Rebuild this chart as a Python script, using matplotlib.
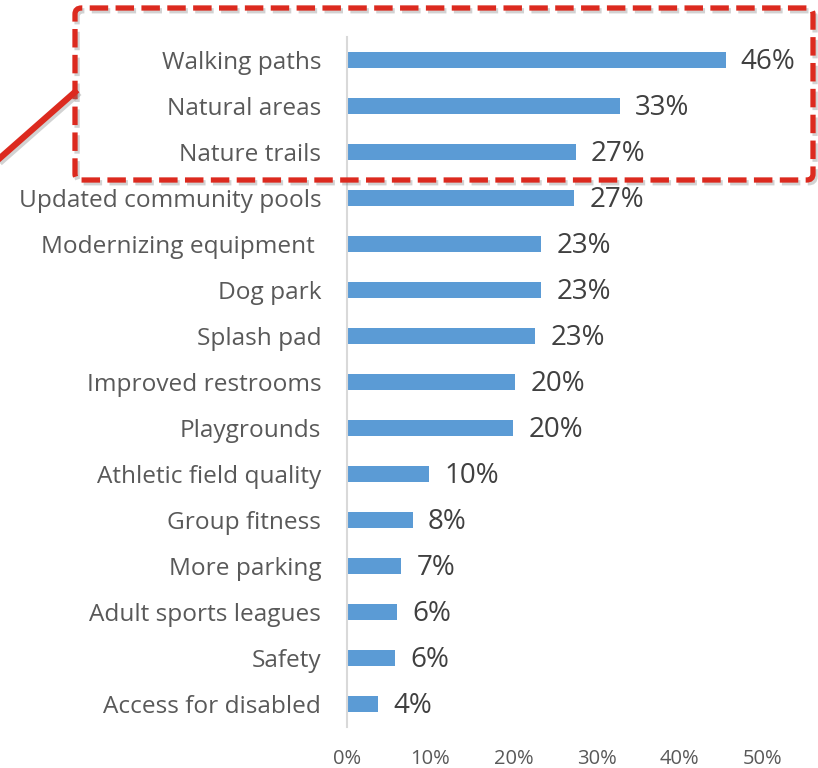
import matplotlib.pyplot as plt
from matplotlib.patches import FancyBboxPatch
from matplotlib.lines import Line2D
from matplotlib import patheffects as pe

# Data (top to bottom)
categories = ['Walking paths', 'Natural areas', 'Nature trails', 'Updated community pools',
              'Modernizing equipment ', 'Dog park', 'Splash pad', 'Improved restrooms',
              'Playgrounds', 'Athletic field quality', 'Group fitness', 'More parking',
              'Adult sports leagues', 'Safety', 'Access for disabled']
values = [45.5, 32.8, 27.5, 27.3, 23.3, 23.3, 22.6, 20.2, 20.0, 9.9, 7.9, 6.5, 6.0, 5.8, 3.7]
value_labels = ['46%', '33%', '27%', '27%', '23%', '23%', '23%', '20%', '20%', '10%',
                '8%', '7%', '6%', '6%', '4%']
xticks = [0, 10, 20, 30, 40, 50]

plt.rcParams['font.family'] = ['Open Sans', 'DejaVu Sans']

fig = plt.figure(figsize=(8.18, 7.68), dpi=100)
ax = fig.add_axes([347/818, 41/768, 416/818, 690/768])

n = len(categories)
ypos = list(range(n))
ax.barh(ypos, values, height=0.35, color='#5B9BD5')
ax.set_ylim(n - 0.5, -0.5)
ax.set_xlim(0, 50)

ax.set_yticks(ypos)
ax.set_yticklabels(categories, fontsize=17.6, color='#595959')
ax.tick_params(axis='y', length=0, pad=18.5)
ax.set_xticks(xticks)
ax.set_xticklabels([f'{t}%' for t in xticks], fontsize=14.5, color='#595959')
ax.tick_params(axis='x', length=0, pad=16)

for s in ['top', 'right', 'bottom']:
    ax.spines[s].set_visible(False)
ax.spines['left'].set_color('#D9D9D9')
ax.spines['left'].set_linewidth(1.5)

for y, v, lab in zip(ypos, values, value_labels):
    ax.annotate(lab, (v, y), xytext=(11, -1.5), textcoords='offset points',
                va='center', ha='left', fontsize=20, color='#404040',
                annotation_clip=False)

# red highlight box and pointer line
shadow = [pe.SimpleLineShadow(offset=(1.5, -2), alpha=0.35, shadow_color='grey'), pe.Normal()]
box = FancyBboxPatch((75/818, (768-180)/768), (813-75)/818, 172/768,
                     boxstyle='round,pad=0,rounding_size=0.008',
                     transform=fig.transFigure, fill=False, edgecolor='#DC2A1F',
                     linewidth=3.8, linestyle=(0, (3.5, 1.4)), clip_on=False,
                     path_effects=shadow)
fig.patches.append(box)
fig.lines.append(Line2D([0, 75/818], [(768-158)/768, (768-92)/768], transform=fig.transFigure,
                        color='#DC2A1F', linewidth=4.5, path_effects=shadow))

fig.savefig('out.png', dpi=100)
